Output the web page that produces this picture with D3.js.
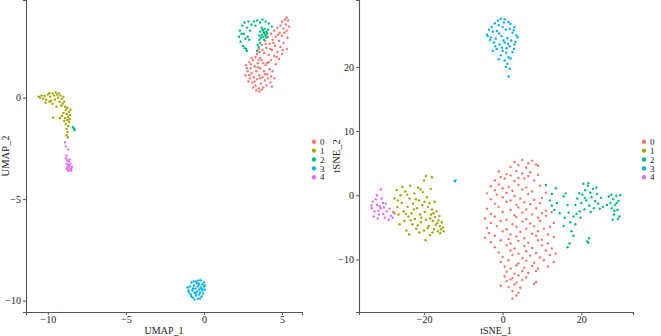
<!DOCTYPE html>
<html>
<head>
<meta charset="utf-8">
<script src="https://cdn.jsdelivr.net/npm/d3@7"></script>
<style>
  body { margin: 0; background: #fff; }
  text { font-family: "Liberation Serif", "DejaVu Serif", serif; fill: #222; }
</style>
</head>
<body>
<div id="chart"></div>
<script>
// cluster ids and colours (ggplot default hue)
var clusters = ["0", "1", "2", "3", "4"];
var clusterColors = ["#F8766D", "#A3A500", "#00BF7D", "#00B0F6", "#E76BF3"];

// UMAP embedding, one array per cluster
var umap0 = [[5.3,3.95],[5.2,3.85],[5.4,3.8],[5.0,3.75],[5.25,3.6],[4.9,3.55],[5.45,3.5],[4.7,3.45],[5.1,3.4],[4.5,3.3],[5.3,3.3],[4.85,3.2],[4.3,3.15],[5.0,3.05],[4.6,3.0],[4.1,3.0],[5.35,2.95],[4.4,2.85],[4.8,2.8],[3.9,2.8],[5.1,2.7],[4.2,2.65],[4.55,2.55],[3.7,2.6],[4.9,2.5],[4.0,2.45],[5.3,2.4],[4.35,2.35],[3.5,2.4],[4.7,2.25],[3.85,2.2],[4.15,2.1],[5.0,2.15],[3.4,2.15],[4.5,2.05],[3.6,1.95],[4.8,1.9],[4.3,1.85],[3.3,2.0],[4.05,1.7],[4.6,1.65],[4.45,2.7],[4.75,3.1],[5.15,3.2],[3.95,2.65],[4.25,2.4],[3.75,2.35],[5.05,2.35],[4.65,2.0],[3.55,2.25],
  [2.7,1.6],[2.8,1.3],[2.65,1.1],[2.9,1.75],[2.95,0.95],[3.0,1.45],[3.05,1.2],[3.1,0.75],[3.15,1.85],[3.2,1.0],[3.25,1.55],[3.3,0.6],[3.35,1.3],[3.4,0.9],[3.45,1.7],[3.5,0.45],[3.55,1.1],[3.6,1.45],[3.65,0.7],[3.7,1.85],[3.75,1.0],[3.8,0.5],[3.85,1.3],[3.9,0.85],[3.95,1.6],[4.0,0.6],[4.05,1.15],[4.1,0.95],[4.2,1.4],[4.25,0.75],[4.3,1.05],[4.4,1.3],[4.5,0.95],[3.35,0.35],[3.55,0.3],[3.7,0.4],[3.15,0.5],[2.85,0.8],[3.0,1.65],[3.45,1.5],[3.6,0.95],[3.9,1.15],[4.15,1.75],[2.75,1.45],[3.25,0.8],[3.8,1.7],[4.35,0.55],[3.05,1.95],[3.5,1.85],[2.9,1.1]];
var umap1 = [[-10.6,0.05],[-10.5,0.0],[-10.4,0.1],[-10.3,-0.05],[-10.2,0.08],[-10.1,-0.1],[-10.0,0.15],[-9.9,0.22],[-9.85,0.05],[-9.8,-0.15],[-9.7,0.2],[-9.6,0.1],[-9.55,-0.1],[-9.5,0.25],[-9.4,0.15],[-9.35,0.0],[-9.3,0.22],[-9.25,-0.2],[-9.2,0.1],[-9.1,-0.05],[-9.05,-0.3],[-9.0,0.05],[-8.95,-0.2],[-9.15,-0.4],[-9.7,-0.3],[-9.9,-0.2],[-10.15,-0.25],[-9.45,-0.45],
  [-8.9,-0.45],[-8.85,-0.6],[-8.75,-0.5],[-8.65,-0.7],[-8.8,-0.8],[-8.7,-0.95],[-8.6,-0.85],[-8.9,-1.0],[-8.75,-1.1],[-8.65,-1.2],[-8.85,-1.3],[-8.7,-1.4],[-8.8,-1.55],[-8.75,-1.7],[-8.8,-1.85],[-8.72,-1.95],[-9.0,-0.75],[-9.1,-0.9],[-8.55,-0.6],[-9.66,-0.98],[-9.23,-1.0],[-8.95,-1.15],[-8.6,-1.05]];
var umap2 = [[2.3,3.3],[2.25,3.0],[2.35,2.75],[2.45,3.55],[2.5,2.55],[2.6,3.7],[2.55,3.15],[2.7,2.4],[2.75,3.45],[2.85,3.75],[2.9,2.85],[2.8,3.0],[2.65,2.9],[2.95,3.3],[3.05,3.6],[2.4,3.15],[2.6,2.45],[2.75,2.3],
  [3.2,3.75],[3.4,3.8],[3.6,3.7],[3.75,3.85],[3.95,3.75],[4.15,3.65],[4.35,3.5],[3.3,3.55],
  [3.6,3.25],[3.7,3.1],[3.75,3.35],[3.8,3.0],[3.85,3.2],[3.9,3.4],[3.95,3.05],[4.0,3.25],[4.05,3.15],[3.65,2.95],[3.7,3.45],[3.85,2.85],[4.1,3.35],[3.55,3.05],[3.9,3.15],[4.0,2.95],[3.8,3.3],
  [3.6,2.7],[3.5,2.5],[3.4,2.3],[3.45,2.6],[3.55,2.85],
  [-8.4,-1.45],[-8.35,-1.5],[-8.3,-1.55],[-8.28,-1.6]];
var umap3 = [[-1,-9.5],[-0.9,-9.3],[-0.85,-9.7],[-0.8,-9.1],[-0.75,-9.5],[-0.7,-9.85],[-0.65,-9.25],[-0.6,-9.6],[-0.55,-9.4],[-0.5,-9.05],[-0.5,-9.75],[-0.45,-9.55],[-0.4,-9.3],[-0.4,-9.9],[-0.35,-9.15],[-0.3,-9.45],[-0.3,-9.7],[-0.25,-9.6],[-0.2,-9.0],[-0.2,-9.35],[-0.15,-9.8],[-0.1,-9.5],[-0.1,-9.2],[-0.05,-9.65],[0,-9.3],[0,-9.1],[0.05,-9.25],[-0.95,-9.6],[-0.6,-9.95],[-0.3,-9.2],[-0.7,-9.4],[-0.25,-9.9],[-0.45,-9.15],[-0.15,-9.4],[-0.8,-9.8],[0.05,-9.45],[-0.35,-9.0],[-0.55,-9.65],[-1.05,-9.35],[-0.65,-9.05]];
var umap4 = [[-8.9,-2.2],[-8.85,-2.4],[-8.7,-2.55],[-8.8,-2.85],[-8.85,-3.0],[-8.75,-3.1],[-8.65,-3.15],[-8.8,-3.25],[-8.7,-3.3],[-8.6,-3.35],[-8.55,-3.25],[-8.75,-3.4],[-8.65,-3.45],[-8.5,-3.5],[-8.6,-3.55],[-8.45,-3.4],[-8.7,-3.6],[-8.5,-3.6],[-8.62,-3.05],[-8.8,-3.5]];

// tSNE embedding, one array per cluster
var tsne0 = [[3,5.2],[5,5.5],[6.5,5.0],[7.5,5.4],[2,4.4],[4,4.7],[6,4.3],[8.5,4.8],[9,4.6],[-1,3.7],[1,3.3],[3.5,3.8],[5,3.4],[7,3.6],[9,3.2],[-0.5,2.8],[2,3.1],[4,2.7],[6.5,3.0],[-2,2.3],[0.5,2.6],[3,2.2],[5.5,2.6],[8,2.3],[-3,1.4],[-1,1.7],[1.5,1.3],[4,1.6],[6,1.2],[9.5,1.5],[-2,0.8],[0,1.1],[2.5,0.7],[5,0.9],[7.5,0.6],[-4,0.3],[-1.5,0.1],[1,0.4],[3,-0.1],[6.5,0.2],[11,0.4],[-3,-0.6],[0,-0.3],[2,-0.8],[4.5,-0.5],[8,-0.7],[10,-0.4],[-2,-1.3],[1,-1.0],[3.5,-1.5],[5.5,-1.1],[7,-1.4],[9.5,-1.2],
  [-4,-2.1],[-1,-1.8],[2,-2.3],[4,-1.9],[6,-2.2],[8.5,-2.0],[11,-2.4],[-3,-2.9],[0,-2.6],[3,-3.1],[5,-2.7],[7.5,-3.0],[10,-2.8],[12.5,-2.6],[-4.5,-3.6],[-2,-3.3],[1,-3.8],[3.5,-3.4],[6,-3.7],[9,-3.5],[11,-3.2],[-3,-4.3],[-0.5,-4.0],[2.5,-4.5],[5,-4.1],[7,-4.4],[9.5,-4.0],[13,-4.3],[-4,-5.1],[-1.5,-4.8],[1,-5.3],[3.5,-4.9],[6,-5.2],[8,-4.8],[10.5,-5.2],[12,-4.9],[-3.5,-5.9],[0,-5.6],[2,-6.1],[4.5,-5.7],[7.5,-6.0],[9,-5.6],[11.5,-6.1],
  [-4.5,-6.6],[-2,-6.3],[1.5,-6.8],[3.5,-6.4],[5.5,-6.7],[8.5,-6.3],[10,-6.9],[13,-6.5],[-3,-7.3],[-0.5,-7.0],[2,-7.5],[4,-7.1],[6.5,-7.4],[9,-7.0],[11.5,-7.5],[-2,-8.1],[1,-7.8],[3,-8.3],[5.5,-7.9],[7.5,-8.2],[10,-7.8],[12.5,-8.3],[-1,-8.9],[2,-8.6],[4,-9.1],[6,-8.7],[8.5,-9.0],[11,-8.6],[13.5,-9.1],[0,-9.6],[2.5,-9.3],[5,-9.8],[7,-9.4],[9.5,-9.7],[12,-9.3],
  [-0.5,-10.4],[1.5,-10.1],[4,-10.6],[6,-10.2],[8,-10.5],[10.5,-10.1],[13,-10.4],[0.5,-11.1],[2,-11.4],[3.5,-10.9],[5.5,-11.3],[7.5,-11.0],[9,-11.4],[11.5,-11.1],[1,-11.9],[3,-12.2],[5,-11.8],[6.5,-12.1],[8.5,-11.8],[0.5,-12.6],[2.5,-12.9],[4,-12.5],[6,-12.8],[1,-13.4],[2,-13.1],[3.5,-13.6],[5,-13.2],[8.5,-13.5],[-0.5,-14.1],[1.5,-14.3],[3,-13.9],[4.5,-14.4],[8,-13.8],[2.5,-14.9],[4,-15.2],[3.5,-15.6],[2.5,-16.1]];
var tsne1 = [[-27.5,-0.5],[-27,0.8],[-26.8,-1.8],[-26.5,-3],[-26,0],[-25.7,-1.2],[-25.2,-2.5],[-25,-4],[-24.8,0.6],[-24.5,-5.5],[-24.2,-1.8],[-24,-3.3],[-23.7,-0.5],[-23.5,1.5],[-23.2,-2.8],[-23,-4.5],[-22.8,-1.3],[-22.5,0.3],[-22.3,-3.7],[-22,-5.2],[-21.8,-2],[-21.5,1.2],[-21.3,-0.8],[-21,-3],[-20.8,-4.2],[-20.5,-1.5],[-20.3,0.5],[-20,2.3],[-20,-5.5],[-19.8,-2.6],[-19.5,-3.8],[-19.5,3],[-19.3,-0.3],[-19,-1.8],[-18.8,-4.8],[-18.5,-6.2],[-18.3,1],[-18.2,-3],[-18,2.8],[-18,-2.2],[-17.8,-4],[-17.5,-5.3],[-17.3,-1],[-17.2,-3.4],[-17,-4.6],[-16.8,-2.5],[-16.5,-5.6],[-16.3,-3.9],[-16,-4.8],[-15.7,-5.3],[-15.5,-4.2],[-15.2,-5],[-15,-5.6],[-19.6,-7],[-21.2,-5.8],[-22.6,-2.2],[-24.6,-2.9],[-26.2,-4.5],[-27.8,-2.6],[-25.5,1.3],[-23.8,-6.1],[-20.7,-3.5],[-18.6,-1.2],[-17.6,-2.8],[-16.1,-3.2],[-19.1,-5.1],[-22.1,-0.6],[-20.9,0.9],[-24.3,0.1],[-26.7,-0.8],[-17.9,-5.8],[-21.6,-4.7],[-23.4,-3.9],[-19.9,-1],[-18.4,-3.6],[-16.6,-4.3],[-15.9,-5.9]];
var tsne2 = [[11,1.6],[13.5,1.1],[12.5,0.2],[12,-0.8],[12.5,-1.6],[13.2,-2.3],[14.5,-2.8],[13.8,-1.2],[15.5,-0.2],[16,0.3],[16.5,-1.5],[15.8,-3.5],[16.8,-2.7],[17.2,-4.2],[15.5,-4.8],[18,-3.3],[18.5,-4.5],[17.5,-5.6],[18,-6.3],[17,-7.5],[16.5,-8.1],[21.5,-7.2],[22,-6.7],[21.8,-7.4],
  [18.5,-1.5],[19,-0.5],[19.5,0.3],[20,-1.2],[20.3,0.1],[20.8,-2.2],[21,0.8],[21.3,-0.8],[21.7,1.5],[22,-1.6],[22.3,0.4],[22.6,-0.3],[23,1],[23.2,-2],[23.5,-0.9],[24,0.2],[24.3,-1.3],[20.5,1.8],[21.8,1.9],[22.4,-2.6],[19.6,-2.5],[20.9,-0.4],[23.8,1.2],[25,-0.4],[24.7,-2.1],[18.8,-2.9],[19.8,-3.5],[25.5,-1.8],
  [27,-0.2],[27.4,-1.2],[27.8,-2],[28.1,-0.6],[28.3,-3],[28.6,-1.5],[28.9,-0.1],[29.2,-2.3],[29.5,-0.9],[29.7,-3.3],[28,-3.8],[29,-1.2],[27.6,0.1],[29.9,0],[28.4,-2.4],[29.3,-3.7],[26.5,-1.5]];
var tsne3 = [[-0.5,27.5],[0.5,27.4],[1.5,27],[-2,26.8],[-1,26.5],[0,26.2],[2,26.7],[3,26.2],[-3.5,25.8],[-2.5,25.5],[-1.5,25.6],[0.8,25.8],[2.5,25.3],[3.5,24.9],[-4,25],[-3,24.6],[-1.8,24.4],[-0.3,24.8],[1.2,24.5],[2.2,24.1],[3.8,24.6],[-3.8,24.8],[-2.2,23.8],[-0.8,23.5],[0.5,23.8],[1.8,23.2],[3,23.5],[-1.5,22.8],[0,22.5],[1,22.9],[2.5,22.3],[-2.5,22.5],[-0.5,21.8],[1.5,21.5],[0.5,21],[2,21.3],[-1,21.2],[1.2,20.5],[1.8,19.7],[0.8,20],[1.5,18.5],[0.3,26.9],[-1.2,27.2],[1.8,25.9],[-2.8,26.2],[2.8,25.7],[-0.9,25.2],[0.2,24.1],[1.4,23.6],[-1.9,23.2],[2.9,22.8],[-0.2,23],[0.9,22.2],[-3.2,24.2],[3.3,23.9],
  [-12.2,2.2],[-12,2.3]];
var tsne4 = [[-31,0.9],[-32,0],[-33,-1],[-33.3,-2],[-32.6,-2.5],[-32,-1.5],[-31.5,-3],[-31,-2],[-30.5,-1.2],[-30,-3.5],[-29.5,-2.5],[-29,-3.8],[-28.5,-3.2],[-28,-3.5],[-27.5,-2.8],[-31.8,-3.6],[-32.8,-3.3],[-30.8,-0.5],[-31.3,-1.7],[-30.2,-1.9],[-32.3,-0.6],[-29.8,-1.3],[-33.4,-1.6],[-31.6,-2.4],[-30.4,-2.9],[-28.8,-2.1]];

// tick labels
var umapXTicks = [-10, -5, 0, 5];
var umapYTicks = [-10, -5, 0];
var tsneXTicks = [-20, 0, 20];
var tsneYTicks = [-10, 0, 10, 20];

var W = 661, H = 336;
var svg = d3.select("#chart").append("svg")
    .attr("width", W)
    .attr("height", H);

var color = d3.scaleOrdinal().domain(clusters).range(clusterColors);

function panel(cfg) {
  var x = d3.scaleLinear().domain(cfg.xDomain).range([cfg.left, cfg.right]);
  var y = d3.scaleLinear().domain(cfg.yDomain).range([cfg.bottom, cfg.top]);
  var g = svg.append("g");

  // points
  cfg.groups.forEach(function(pts, i) {
    g.append("g")
      .selectAll("circle")
      .data(pts)
      .enter()
      .append("circle")
        .attr("cx", function(d) { return x(d[0]); })
        .attr("cy", function(d) { return y(d[1]); })
        .attr("r", 1.2)
        .attr("fill", color(clusters[i]));
  });

  // axes
  var xAxis = g.append("g")
      .attr("transform", "translate(0," + cfg.bottom + ")")
      .call(d3.axisBottom(x).tickValues(cfg.xTicks).tickSize(3).tickPadding(1));
  var yAxis = g.append("g")
      .attr("transform", "translate(" + cfg.left + ",0)")
      .call(d3.axisLeft(y).tickValues(cfg.yTicks).tickSize(3).tickPadding(2));
  [xAxis, yAxis].forEach(function(a) {
    a.select(".domain").attr("stroke", "#555").attr("stroke-width", 1.1);
    a.selectAll(".tick line").attr("stroke", "#555");
    a.selectAll(".tick text")
      .attr("fill", "#222")
      .style("font-family", "'Liberation Serif', serif")
      .style("font-size", "10px");
  });

  // axis titles
  g.append("text")
    .attr("x", (cfg.left + cfg.right) / 2)
    .attr("y", cfg.bottom + 22.2)
    .attr("text-anchor", "middle")
    .style("font-size", "10px")
    .text(cfg.xLabel);
  g.append("text")
    .attr("transform", "translate(" + cfg.yLabelX + "," + ((cfg.top + cfg.bottom) / 2) + ") rotate(-90)")
    .attr("text-anchor", "middle")
    .style("font-size", "10.5px")
    .text(cfg.yLabel);

  // legend
  var leg = g.append("g")
      .selectAll("g")
      .data(clusters)
      .enter()
      .append("g")
        .attr("transform", function(d, i) { return "translate(" + cfg.legendX + "," + (141.7 + i * 8.9) + ")"; });
  leg.append("circle")
      .attr("r", 2.2)
      .attr("fill", function(d) { return color(d); });
  leg.append("text")
      .attr("x", 6)
      .attr("dy", "0.35em")
      .style("font-size", "9px")
      .text(function(d) { return d; });
}

panel({
  groups: [umap0, umap1, umap2, umap3, umap4],
  xDomain: [-11.4, 6.28], yDomain: [-10.56, 4.81],
  left: 26, right: 302, top: 0, bottom: 312,
  xTicks: umapXTicks, yTicks: umapYTicks,
  xLabel: "UMAP_1", yLabel: "UMAP_2", yLabelX: 9,
  legendX: 314
});

panel({
  groups: [tsne0, tsne1, tsne2, tsne3, tsne4],
  xDomain: [-36.56, 33.16], yDomain: [-18.18, 30.42],
  left: 359, right: 633, top: 0, bottom: 312,
  xTicks: tsneXTicks, yTicks: tsneYTicks,
  xLabel: "tSNE_1", yLabel: "tSNE_2", yLabelX: 340,
  legendX: 644
});
</script>
</body>
</html>
